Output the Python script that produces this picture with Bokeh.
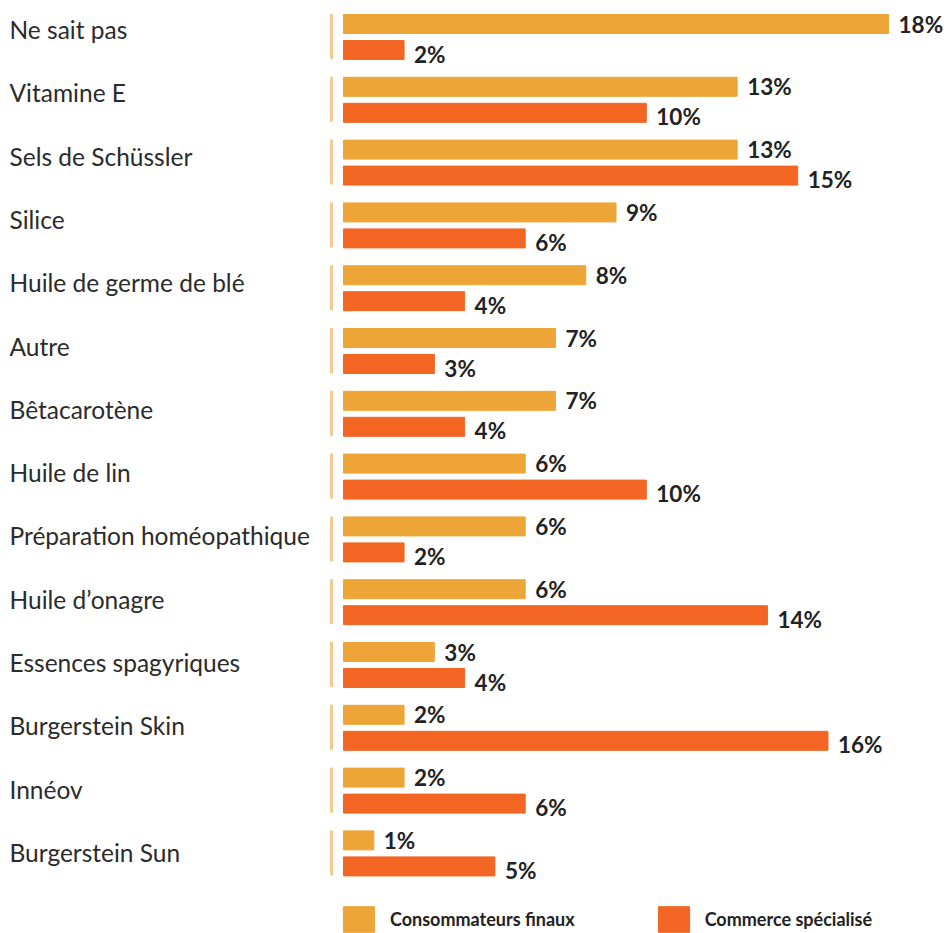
from bokeh.plotting import figure
from bokeh.models import ColumnDataSource, Range1d, Legend, LegendItem
from bokeh.core.properties import value
from bokeh.embed import file_html
from bokeh.resources import INLINE

categories = ["Ne sait pas", "Vitamine E", "Sels de Schüssler", "Silice",
              "Huile de germe de blé", "Autre", "Bêtacarotène", "Huile de lin",
              "Préparation homéopathique", "Huile d\u2019onagre", "Essences spagyriques",
              "Burgerstein Skin", "Innéov", "Burgerstein Sun"]
consommateurs = [18, 13, 13, 9, 8, 7, 7, 6, 6, 6, 3, 2, 2, 1]
commerce = [2, 10, 15, 6, 4, 3, 4, 10, 2, 14, 4, 16, 6, 5]
series_names = ["Consommateurs finaux", "Commerce spécialisé"]

YELLOW = "#EDA537"
ORANGE = "#F26522"
SEP = "#F6C98E"

W, H = 947, 933
PX_X = 30.28      # pixels per percent
X0 = 343          # pixel of 0%
PX_Y = 62.8       # pixels per category (bars)
Y0 = 36.5         # pixel center of first category
LAB_Y0 = 29.0     # pixel of first category label
LAB_DY = 63.3     # label spacing in pixels

idx = list(range(len(categories)))
off = 13 / PX_Y
bh = 19 / PX_Y

src = ColumnDataSource(dict(
    idx=idx,
    cat=categories,
    c1=consommateurs,
    c2=commerce,
    y1=[i - off for i in idx],
    y2=[i + off for i in idx],
    y2t=[i + off + 4 / PX_Y for i in idx],
    ylab=[(LAB_Y0 + LAB_DY * i - Y0) / PX_Y for i in idx],
    l1=[f"{v}%" for v in consommateurs],
    l2=[f"{v}%" for v in commerce],
    x1t=[v + 10 / PX_X for v in consommateurs],
    x2t=[v + 10 / PX_X for v in commerce],
    labx=[-(X0 - 9) / PX_X] * len(idx),
    sepx=[-12 / PX_X] * len(idx),
    sy0=[i - 23 / PX_Y for i in idx],
    sy1=[i + 22 / PX_Y for i in idx],
))

p = figure(width=W, height=H, output_backend="svg", toolbar_location=None,
           x_range=Range1d(-X0 / PX_X, (W - X0) / PX_X),
           y_range=Range1d((H - Y0) / PX_Y, -Y0 / PX_Y),
           min_border=0)
p.axis.visible = False
p.grid.visible = False
p.outline_line_color = None
p.background_fill_color = "white"
p.border_fill_color = "white"

r1 = p.hbar(y="y1", left=0, right="c1", height=bh, color=YELLOW, source=src)
r2 = p.hbar(y="y2", left=0, right="c2", height=bh, color=ORANGE, source=src)

p.segment(x0="sepx", x1="sepx", y0="sy0", y1="sy1", line_color=SEP, line_width=3, source=src)

p.text(x="labx", y="ylab", text="cat", source=src, text_font=value("Lato"),
       text_font_size="24.5px", text_color="#2b2b2b", text_baseline="middle", text_align="left")
p.text(x="x1t", y="y1", text="l1", source=src, text_font=value("Lato"), text_font_style="bold",
       text_font_size="22.5px", text_color="#222222", text_baseline="middle", text_align="left")
p.text(x="x2t", y="y2t", text="l2", source=src, text_font=value("Lato"), text_font_style="bold",
       text_font_size="22.5px", text_color="#222222", text_baseline="middle", text_align="left")

legend = Legend(items=[LegendItem(label=series_names[0], renderers=[r1]),
                       LegendItem(label=series_names[1], renderers=[r2])],
                orientation="horizontal", location=(339, -2),
                glyph_width=39, glyph_height=32, label_standoff=12, spacing=79,
                padding=0, margin=0, border_line_alpha=0, background_fill_alpha=0,
                label_text_font="Lato", label_text_font_style="bold",
                label_text_font_size="18px", label_text_color="#222222",
                label_height=32)
p.add_layout(legend, "center")

open("out.html", "w").write(file_html(p, INLINE))
